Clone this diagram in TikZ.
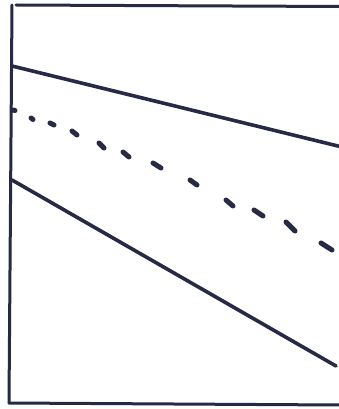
\documentclass[tikz,border=0pt]{standalone}
\definecolor{ink}{HTML}{262A44}
\tikzset{
  solidline/.style={draw=ink, line width=3.6pt, line cap=round},
  frameline/.style={draw=ink, line width=3pt, line cap=round},
  dashbit/.style={draw=ink, line width=5pt, line cap=round}
}
\begin{document}
\begin{tikzpicture}[x=1pt,y=-1pt]
\useasboundingbox (0,0) rectangle (338,409);
\fill[white] (0,0) rectangle (338,409);
% frame
\coordinate (tl) at (12,5);
\coordinate (tr) at (340,6.5);
\coordinate (bl) at (9,403);
\coordinate (br) at (340,405);
\draw[frameline] (tr) -- (16,5);
\draw[frameline] (tl) -- (bl);
\draw[frameline] (bl) -- (br);
% solid slanted lines
\coordinate (a1) at (12,66);
\coordinate (a2) at (342,147);
\draw[solidline] (a1) -- (a2);
\coordinate (b1) at (12,180);
\coordinate (b2) at (336,366);
\draw[solidline] (b1) -- (b2);
% dashed line
\foreach \xa/\ya/\xb/\yb in {13/110/15/110.5, 31/118/33/119.5, 50/123/54/125, 72/131/77/135,
  99/143/104/148, 123/152/129/157, 153/163/161/168, 190/180/197/185, 226/200/233/206,
  254/210/263/216, 286/222/295/231, 321/243/332/250}
  \draw[dashbit] (\xa,\ya) -- (\xb,\yb);
\end{tikzpicture}
\end{document}
